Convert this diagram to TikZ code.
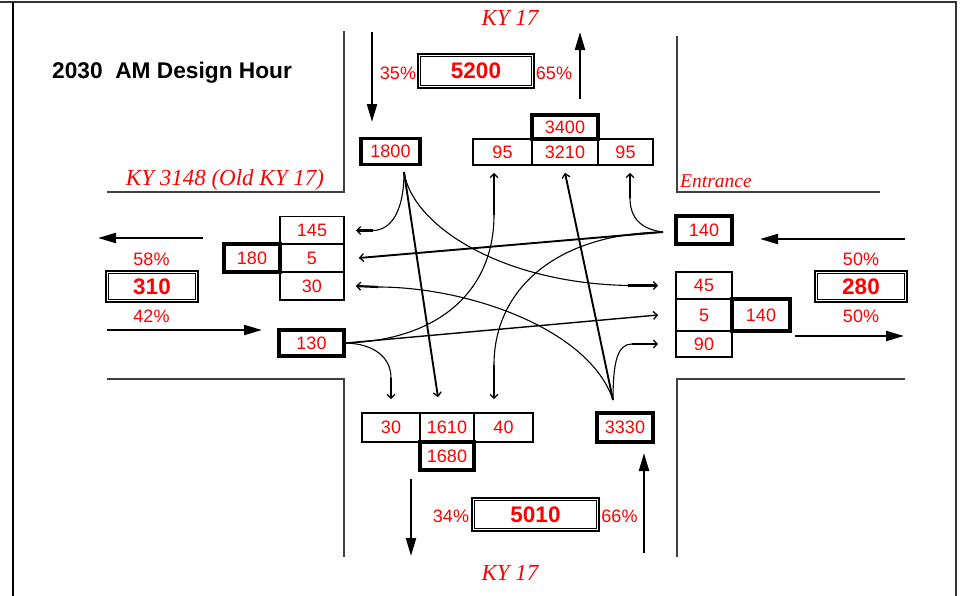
\documentclass[tikz,border=0pt]{standalone}
\usepackage{fontspec}
\setmainfont{Liberation Sans}
\newfontfamily\roadfont{Liberation Serif}
\usetikzlibrary{arrows.meta, positioning, calc}
\definecolor{volred}{HTML}{FF0000}

\begin{document}
\begin{tikzpicture}[x=1pt, y=-1pt,
  every node/.style={font=\fontsize{18}{20}\selectfont, text=volred, inner sep=0pt},
  vol/.style 2 args={draw=black, line width=1.6pt, minimum width=#1pt, minimum height=#2pt},
  tot/.style 2 args={vol={#1}{#2}, line width=3.2pt},
  grand/.style 2 args={vol={#1}{#2}, line width=2.4pt, font=\fontsize{22.5}{24}\selectfont\bfseries},
  roadname/.style={font=\roadfont\itshape\fontsize{23}{24}\selectfont},
  road/.style={line width=1.3pt, black!75},
  approach/.style={line width=2.2pt, -{Triangle[length=18pt,width=10pt]}},
  flow/.style={line width=1.1pt},
  tip/.style={line width=2.2pt, -{Straight Barb[length=4pt,width=8pt,line width=1.3pt]}},
  thru/.style={line width=1.9pt, -{Straight Barb[length=4pt,width=8pt,line width=1.3pt]}}]
  \useasboundingbox (0,0) rectangle (962,595);
  \draw[line width=1.4pt, black!80] (0,2) -- (957,2);
  \draw[line width=1.4pt] (13,2) -- (13,600);
  \draw[line width=1.4pt, black!80] (956,2) -- (956,600);

  % road edges
  \draw[road] (344,31) -- (344,192) -- (107,192);
  \draw[road] (677,36) -- (677,192) -- (880,192);
  \draw[road] (107,379) -- (344,379) -- (344,557);
  \draw[road] (905,379) -- (677,379) -- (677,557);

  \node[anchor=west, text=black, font=\fontsize{22.7}{24}\selectfont\bfseries] (title) at (52,73) {2030\hspace{0.28em} AM Design Hour};
  \node[roadname] (kyN) at (510,18) {KY 17};
  \node[roadname] (kyS) at (510,573) {KY 17};
  \node[roadname] (kyW) at (225,180) {KY 3148 (Old KY 17)};
  \node[roadname, font=\roadfont\itshape\fontsize{19.5}{20}\selectfont, anchor=west] (ent) at (680,181) {Entrance};

  % north leg
  \node[grand={116}{34}] (n5200) at (476,71) {5200};
  \node (p35) at (398,73) {35\%};
  \node (p65) at (554,73) {65\%};
  \node[tot={59}{26}] (n1800) at (390.5,151.5) {1800};
  \node[vol={59}{26}] (nSL) at (502.5,152) {95};
  \node[vol={66}{26}] (nST) at (565,152) {3210};
  \node[vol={55}{26}] (nSR) at (625.5,152) {95};
  \node[tot={66}{24}] (n3400) at (565,127) {3400};

  % west leg
  \node[grand={92}{31}] (n310) at (152,286.5) {310};
  \node (p58) at (151.5,259) {58\%};
  \node (p42) at (151.5,316.5) {42\%};
  \node[vol={64}{28}] (nW145) at (312,230.5) {145};
  \node[vol={64}{28}] (nW5) at (312,258) {5};
  \node[vol={64}{28}] (nW30) at (312,286) {30};
  \node[tot={56}{28}] (nW180) at (252,258) {180};
  \node[tot={65}{26}] (n130) at (311.5,343) {130};

  % east leg
  \node[tot={56}{28}] (n140) at (704,230) {140};
  \node[grand={92}{31}] (n280) at (861,286.5) {280};
  \node (p50a) at (861,259) {50\%};
  \node (p50b) at (861,316.5) {50\%};
  \node[vol={56}{27}] (nE45) at (704,285.5) {45};
  \node[vol={56}{32}] (nE5) at (704,315) {5};
  \node[vol={56}{26}] (nE90) at (704,344) {90};
  \node[tot={58}{32}] (nE140) at (761,315) {140};

  % south leg
  \node[vol={58}{29}] (nN30) at (391,427.5) {30};
  \node[vol={54}{29}] (nN1610) at (447,427.5) {1610};
  \node[vol={59}{29}] (nN40) at (503.5,427.5) {40};
  \node[tot={54}{28}] (n1680) at (447,456) {1680};
  \node[tot={56}{29}] (n3330) at (625,427.5) {3330};
  \node[grand={127}{33}] (n5010) at (535.5,514.5) {5010};
  \node (p34) at (451,516) {34\%};
  \node (p66) at (619.5,516) {66\%};

  \foreach \g in {n5200,n310,n280,n5010}
    \draw[line width=1.2pt] ([xshift=4pt,yshift=-4pt]\g.north west) rectangle ([xshift=-4pt,yshift=4pt]\g.south east);

  \foreach \nm/\xa/\ya/\xb/\yb in {sIn/372/32/372/122, sOut/580/99/580/32, wOut/203/238/98/238, wIn/107/330/262/330,
      eIn/905/239/760/239, eOut/795/336/904/336, nOut/411/479/411/556, nIn/644/553/644/453}{
    \coordinate (\nm0) at (\xa,\ya);
    \coordinate (\nm1) at (\xb,\yb);
    \draw[approach] (\nm0) -- (\nm1);
  }

  \coordinate (sO) at (404,172);
  \coordinate (eO) at (663,232);
  \coordinate (wO) at (346,343);
  \coordinate (nO) at (613,400);

  % southbound
  \draw[flow] (sO) .. controls +(0,43) and +(16,0) .. ([xshift=28pt]nW145.east) coordinate (sbR);
  \draw[tip] (sbR) -- ([xshift=11pt]nW145.east);
  \draw[thru] (sO) -- ([xshift=-9pt,yshift=15pt]nN1610.north);
  \draw[flow] (sO) .. controls (412,225) and (500,283) .. ([xshift=-47pt]nE45.west) coordinate (sbL);
  \draw[tip] (sbL) -- ([xshift=-17pt]nE45.west);

  % westbound
  \draw[thru] (eO) -- ([xshift=14pt]nW5.east);
  \draw[flow] (eO) .. controls (638,229) and (630,215) .. (630,198) coordinate (wbR);
  \draw[tip] (wbR) -- ([xshift=4.5pt,yshift=-7pt]nSR.south);
  \draw[flow] (eO) .. controls (555,234) and (494,290) .. (494,365) coordinate (wbL);
  \draw[tip] (wbL) -- ([xshift=-9.5pt,yshift=13pt]nN40.north);

  % eastbound
  \draw[thru, line width=1.4pt] (wO) -- ([xshift=-17pt]nE5.west);
  \draw[flow] (wO) .. controls (375,344) and (391,358) .. (391,378) coordinate (ebR);
  \draw[tip] (ebR) -- ([yshift=13pt]nN30.north);
  \draw[flow] (wO) .. controls (440,340) and (494,290) .. (494,215) coordinate (ebL);
  \draw[tip] (ebL) -- ([xshift=-8.5pt,yshift=-7pt]nSL.south);

  % northbound
  \draw[thru] (nO) -- ([yshift=-7pt]nST.south);
  \draw[flow] (nO) .. controls (613,360) and (618,344) .. (632,344) coordinate (nbR);
  \draw[tip] (nbR) -- ([xshift=-17pt]nE90.west);
  \draw[flow] (nO) .. controls (590,330) and (470,287) .. (378,287) coordinate (nbL);
  \draw[tip] (nbL) -- ([xshift=11pt]nW30.east);
\end{tikzpicture}
\end{document}
